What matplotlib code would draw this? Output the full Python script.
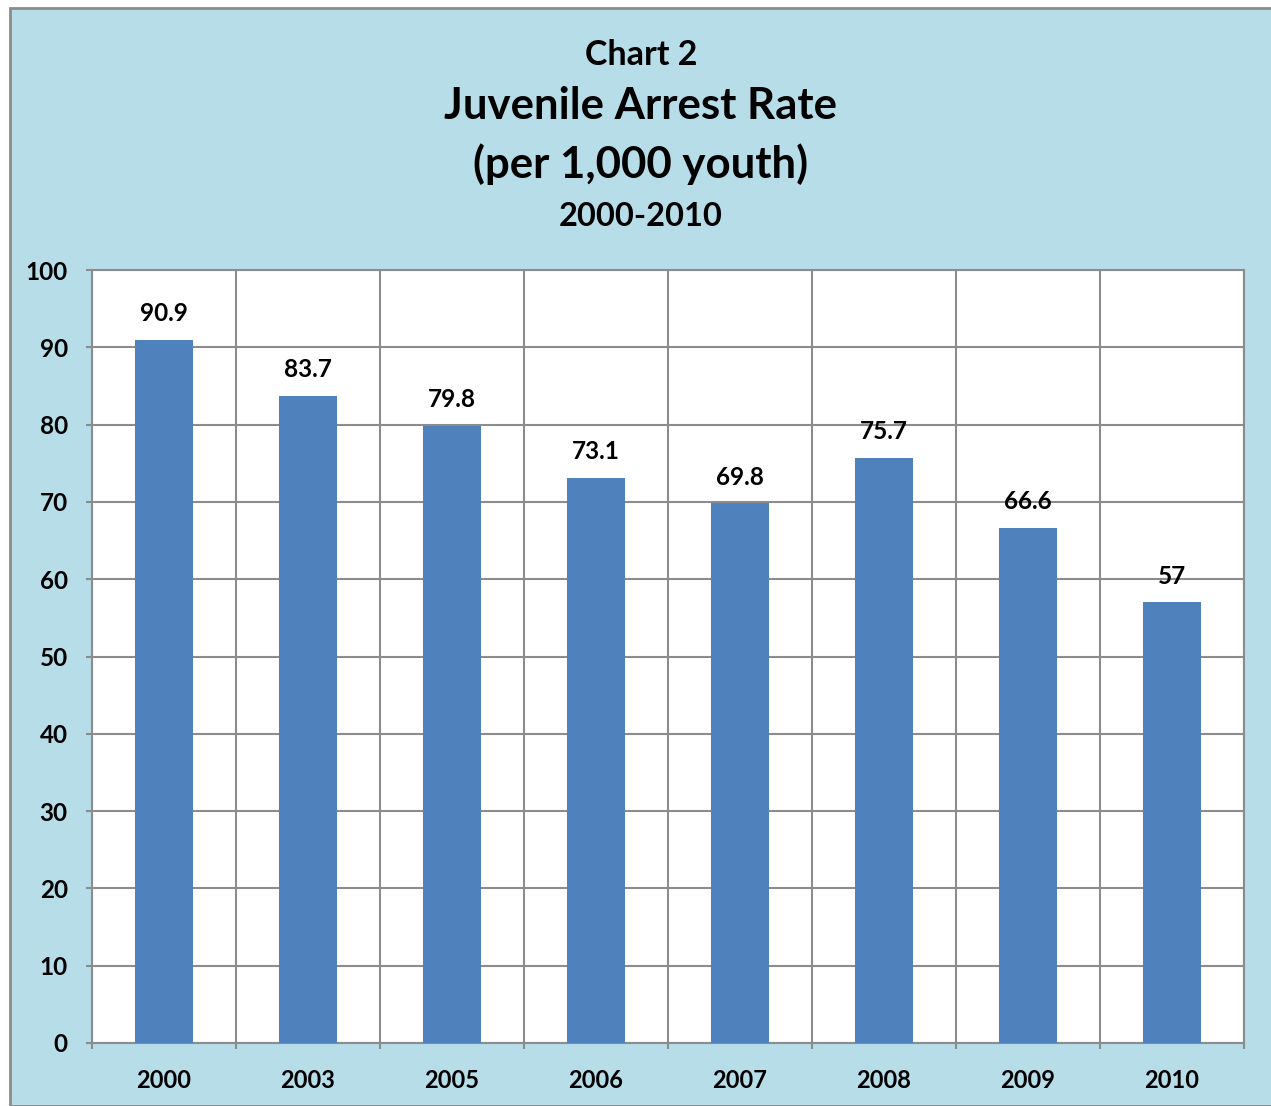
import matplotlib
matplotlib.use("Agg")
import matplotlib.pyplot as plt
from matplotlib.patches import Rectangle
import numpy as np

years = ["2000", "2003", "2005", "2006", "2007", "2008", "2009", "2010"]
rates = [90.9, 83.7, 79.8, 73.1, 69.8, 75.7, 66.6, 57]
value_labels = ["90.9", "83.7", "79.8", "73.1", "69.8", "75.7", "66.6", "57"]
y_ticks = [0, 10, 20, 30, 40, 50, 60, 70, 80, 90, 100]

W, H = 1271, 1106
plt.rcParams["font.family"] = ["Lato", "DejaVu Sans"]
fig = plt.figure(figsize=(W / 100, H / 100), dpi=100, facecolor="white")

bg = Rectangle((10 / W, 0), 1.0, 1 - 8 / H, transform=fig.transFigure,
               facecolor="#B7DDE8", edgecolor="#8C8C8C", linewidth=2, zorder=-10)
fig.patches.append(bg)

ax = fig.add_axes([92 / W, 1 - 1043 / H, (1244 - 92) / W, (1043 - 270) / H])
ax.set_facecolor("white")
x = np.arange(len(years))
ax.bar(x, rates, width=0.4, color="#4F81BD", zorder=3)
for xi, v, lab in zip(x, rates, value_labels):
    ax.annotate(lab, (xi, v), xytext=(0, 19), textcoords="offset points",
                ha="center", va="center", fontsize=17.5, fontweight="bold", color="black")

ax.set_xlim(-0.5, len(years) - 0.5)
ax.set_ylim(0, 100)
ax.set_yticks(y_ticks)
ax.set_yticklabels([str(t) for t in y_ticks], fontsize=17.5, fontweight="bold")
ax.set_xticks(x)
ax.set_xticklabels(years, fontsize=17, fontweight="bold")
ax.set_xticks(np.arange(-0.5, len(years)), minor=True)
ax.tick_params(axis="x", which="major", length=0, pad=19)
ax.tick_params(axis="x", which="minor", length=4.5, width=1.5, color="#8C8C8C")
ax.tick_params(axis="y", length=4.5, width=1.5, color="#8C8C8C", pad=13)
ax.grid(axis="y", which="major", color="#8C8C8C", linewidth=1.5, zorder=1)
ax.grid(axis="x", which="minor", color="#8C8C8C", linewidth=1.5, zorder=1)
ax.set_axisbelow(True)
for s in ax.spines.values():
    s.set_color("#8C8C8C")
    s.set_linewidth(1.5)

cx = 641 / W
fig.text(cx, 1 - 55 / H, "Chart 2", ha="center", va="center", fontsize=24.5, fontweight="bold")
fig.text(cx, 1 - 106 / H, "Juvenile Arrest Rate", ha="center", va="center", fontsize=31.5, fontweight="bold")
fig.text(cx, 1 - 164 / H, "(per 1,000 youth)", ha="center", va="center", fontsize=31.5, fontweight="bold")
fig.text(cx, 1 - 217 / H, "2000-2010", ha="center", va="center", fontsize=23.5, fontweight="bold")

fig.savefig("out.png", dpi=100, facecolor="white")
